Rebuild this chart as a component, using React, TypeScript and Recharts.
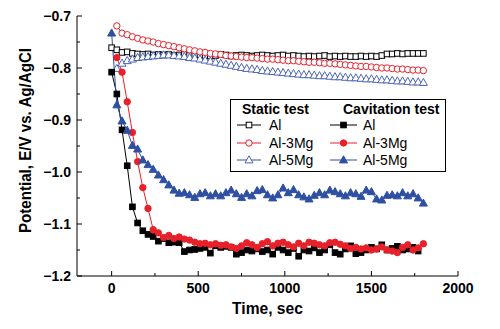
import React from 'react';
import { LineChart, Line, XAxis, YAxis, Legend } from 'recharts';

const TIME = [0, 30, 60, 90, 120, 150, 180, 210, 240, 270, 300, 330, 360, 390, 420, 450, 480, 510, 540, 570, 600, 630, 660, 690, 720, 750, 780, 810, 840, 870, 900, 930, 960, 990, 1020, 1050, 1080, 1110, 1140, 1170, 1200, 1230, 1260, 1290, 1320, 1350, 1380, 1410, 1440, 1470, 1500, 1530, 1560, 1590, 1620, 1650, 1680, 1710, 1740, 1770, 1800];

const STATIC_AL = [-0.761, -0.765, -0.770, -0.769, -0.772, -0.773, -0.774, -0.773, -0.775, -0.774, -0.775, -0.774, -0.776, -0.775, -0.774, -0.776, -0.775, -0.775, -0.776, -0.777, -0.776, -0.774, -0.775, -0.777, -0.776, -0.775, -0.776, -0.777, -0.776, -0.775, -0.776, -0.777, -0.776, -0.775, -0.777, -0.776, -0.777, -0.778, -0.777, -0.778, -0.777, -0.776, -0.778, -0.777, -0.778, -0.777, -0.778, -0.778, -0.777, -0.778, -0.777, -0.778, -0.776, -0.773, -0.773, -0.772, -0.773, -0.772, -0.772, -0.772, -0.772];

const STATIC_AL3MG = [null, -0.719, -0.733, -0.736, -0.740, -0.743, -0.746, -0.748, -0.750, -0.753, -0.755, -0.757, -0.759, -0.761, -0.763, -0.765, -0.767, -0.769, -0.770, -0.772, -0.773, -0.774, -0.776, -0.777, -0.778, -0.779, -0.780, -0.780, -0.781, -0.782, -0.783, -0.783, -0.784, -0.785, -0.786, -0.786, -0.787, -0.788, -0.789, -0.789, -0.790, -0.791, -0.791, -0.792, -0.793, -0.794, -0.795, -0.796, -0.797, -0.797, -0.798, -0.799, -0.800, -0.800, -0.801, -0.802, -0.802, -0.803, -0.804, -0.804, -0.805];

const STATIC_AL5MG = [null, -0.801, -0.791, -0.786, -0.783, -0.780, -0.779, -0.778, -0.777, -0.776, -0.775, -0.775, -0.776, -0.777, -0.778, -0.780, -0.781, -0.783, -0.785, -0.787, -0.789, -0.791, -0.793, -0.795, -0.797, -0.799, -0.801, -0.802, -0.803, -0.805, -0.806, -0.807, -0.808, -0.809, -0.810, -0.811, -0.812, -0.813, -0.813, -0.814, -0.815, -0.815, -0.816, -0.817, -0.817, -0.818, -0.819, -0.819, -0.820, -0.821, -0.821, -0.822, -0.823, -0.823, -0.824, -0.825, -0.825, -0.826, -0.827, -0.827, -0.828];

const CAV_AL = [-0.808, -0.850, -0.919, -0.988, -1.067, -1.098, -1.113, -1.120, -1.124, -1.133, -1.128, -1.136, -1.135, -1.136, -1.153, -1.150, -1.149, -1.147, -1.145, -1.156, -1.142, -1.145, -1.143, -1.145, -1.158, -1.155, -1.150, -1.152, -1.148, -1.153, -1.150, -1.158, -1.145, -1.150, -1.155, -1.147, -1.162, -1.150, -1.152, -1.146, -1.155, -1.150, -1.140, -1.155, -1.158, -1.148, -1.142, -1.157, -1.155, -1.150, -1.145, -1.148, -1.140, -1.150, -1.147, -1.143, -1.150, -1.148, -1.145, -1.152, null];

const CAV_AL3MG = [null, -0.780, -0.808, -0.865, -0.924, -0.980, -1.030, -1.070, -1.111, -1.117, -1.126, -1.122, -1.128, -1.125, -1.129, -1.131, -1.135, -1.138, -1.137, -1.140, -1.138, -1.141, -1.140, -1.144, -1.147, -1.142, -1.136, -1.140, -1.145, -1.138, -1.134, -1.142, -1.137, -1.135, -1.140, -1.144, -1.137, -1.142, -1.135, -1.137, -1.140, -1.142, -1.136, -1.135, -1.139, -1.142, -1.147, -1.145, -1.148, -1.146, -1.150, -1.148, -1.144, -1.150, -1.152, -1.155, -1.145, -1.140, -1.150, -1.146, -1.138];

const CAV_AL5MG = [-0.733, -0.871, -0.902, -0.920, -0.949, -0.956, -0.977, -0.986, -0.995, -1.006, -1.015, -1.025, -1.035, -1.041, -1.040, -1.044, -1.049, -1.042, -1.040, -1.046, -1.042, -1.046, -1.040, -1.035, -1.042, -1.049, -1.042, -1.046, -1.036, -1.034, -1.044, -1.050, -1.044, -1.031, -1.040, -1.034, -1.044, -1.048, -1.052, -1.045, -1.040, -1.044, -1.035, -1.038, -1.042, -1.046, -1.040, -1.042, -1.047, -1.035, -1.038, -1.052, -1.054, -1.045, -1.044, -1.046, -1.040, -1.046, -1.042, -1.050, -1.060];

const X_TICKS = [0, 250, 500, 750, 1000, 1250, 1500, 1750, 2000];
const X_MAJOR = [0, 500, 1000, 1500, 2000];
const Y_TICKS = [-1.2, -1.15, -1.1, -1.05, -1.0, -0.95, -0.9, -0.85, -0.8, -0.75, -0.7];
const Y_MAJOR = [-1.2, -1.1, -1.0, -0.9, -0.8, -0.7];

const BLACK = '#000000';
const RED = '#e8202a';
const BLUE = '#2f4fa3';
const BLUE_LIGHT = '#4a64b8';
const FONT = "Arial, 'Liberation Sans', Helvetica, sans-serif";

const data = TIME.map((t, i) => ({
  t,
  sAl: STATIC_AL[i],
  s3: STATIC_AL3MG[i],
  s5: STATIC_AL5MG[i],
  cAl: CAV_AL[i],
  c3: CAV_AL3MG[i],
  c5: CAV_AL5MG[i],
}));

type Shape = 'square' | 'circle' | 'triangle';

function marker(shape: Shape, cx: number, cy: number, color: string, filled: boolean, key?: string) {
  const fill = filled ? color : '#ffffff';
  if (shape === 'square') {
    const s = 5.6;
    return <rect key={key} x={cx - s / 2} y={cy - s / 2} width={s} height={s} fill={fill} stroke={color} strokeWidth={1} />;
  }
  if (shape === 'circle') {
    return <circle key={key} cx={cx} cy={cy} r={3.2} fill={fill} stroke={color} strokeWidth={1} />;
  }
  const pts = `${cx},${cy - 4.2} ${cx - 4},${cy + 2.9} ${cx + 4},${cy + 2.9}`;
  return <polygon key={key} points={pts} fill={fill} stroke={color} strokeWidth={1} />;
}

function makeDot(shape: Shape, color: string, filled: boolean, id: string) {
  return (p: any) => {
    const key = `${id}-${p.index}`;
    if (p.cx == null || p.cy == null || p.value == null) return <g key={key} />;
    return marker(shape, p.cx, p.cy, color, filled, key);
  };
}

const LeftTick = (p: any) => {
  const { x, y, payload } = p;
  const v = payload.value;
  const major = Y_MAJOR.some((m) => Math.abs(m - v) < 1e-6);
  return (
    <g>
      <line x1={x} x2={x + (major ? 5 : 3)} y1={y} y2={y} stroke={BLACK} strokeWidth={1} />
      {major && (
        <text x={x - 6} y={y + 5} textAnchor="end" fontFamily={FONT} fontWeight="bold" fontSize={14} fill={BLACK}>
          {v.toFixed(1).replace('-', '\u2212')}
        </text>
      )}
    </g>
  );
};

const RightTick = (p: any) => {
  const { x, y, payload } = p;
  const v = payload.value;
  const major = Y_MAJOR.some((m) => Math.abs(m - v) < 1e-6);
  return <line x1={x} x2={x - (major ? 5 : 3)} y1={y} y2={y} stroke={BLACK} strokeWidth={1} />;
};

const BottomTick = (p: any) => {
  const { x, y, payload } = p;
  const v = payload.value;
  const major = X_MAJOR.includes(v);
  return (
    <g>
      <line x1={x} x2={x} y1={y} y2={y - (major ? 5 : 3)} stroke={BLACK} strokeWidth={1} />
      {major && (
        <text x={x} y={y + 17} textAnchor="middle" fontFamily={FONT} fontWeight="bold" fontSize={14} fill={BLACK}>
          {String(v)}
        </text>
      )}
    </g>
  );
};

const TopTick = (p: any) => {
  const { x, y, payload } = p;
  const v = payload.value;
  const major = X_MAJOR.includes(v);
  return <line x1={x} x2={x} y1={y} y2={y + (major ? 5 : 3)} stroke={BLACK} strokeWidth={1} />;
};

const LEGEND_ROWS: { name: string; shape: Shape; color: string }[] = [
  { name: 'Al', shape: 'square', color: BLACK },
  { name: 'Al-3Mg', shape: 'circle', color: RED },
  { name: 'Al-5Mg', shape: 'triangle', color: BLUE },
];

const LegendBox = () => {
  const rowsY = [26, 44, 61];
  return (
    <svg width={216} height={73} style={{ display: 'block' }}>
      <rect x={0.5} y={0.5} width={215} height={72} fill="#ffffff" stroke={BLACK} strokeWidth={1} />
      <text x={12} y={15} fontFamily={FONT} fontWeight="bold" fontSize={14} fill={BLACK}>Static test</text>
      <text x={113} y={15} fontFamily={FONT} fontWeight="bold" fontSize={14} fill={BLACK}>Cavitation test</text>
      {LEGEND_ROWS.map((r, i) => {
        const y = rowsY[i];
        return (
          <g key={r.name}>
            <line x1={7} x2={31} y1={y} y2={y} stroke={r.color} strokeWidth={1} />
            {marker(r.shape, 19, y, r.shape === 'triangle' ? BLUE_LIGHT : r.color, false)}
            <text x={39} y={y + 5} fontFamily={FONT} fontSize={14} fill={BLACK}>{r.name}</text>
            <line x1={100} x2={127} y1={y} y2={y} stroke={r.color} strokeWidth={1} />
            {marker(r.shape, 113.5, y, r.color, true)}
            <text x={133} y={y + 5} fontFamily={FONT} fontSize={14} fill={BLACK}>{r.name}</text>
          </g>
        );
      })}
    </svg>
  );
};

const YLabel = (p: any) => {
  const vb = p.viewBox || { x: 0, y: 16, width: 77, height: 260 };
  const cx = vb.x + 31;
  const cy = vb.y + vb.height / 2 - 5.5;
  return (
    <text x={cx} y={cy} transform={`rotate(-90 ${cx} ${cy})`} textAnchor="middle" textLength={185} lengthAdjust="spacingAndGlyphs" fontFamily={FONT} fontWeight="bold" fontSize={16} fill={BLACK}>
      Potential, E/V vs. Ag/AgCl
    </text>
  );
};

const XLabel = (p: any) => {
  const vb = p.viewBox || { x: 77, y: 276, width: 381, height: 53 };
  const cx = vb.x + vb.width / 2;
  return (
    <text x={cx} y={vb.y + 38} textAnchor="middle" fontFamily={FONT} fontWeight="bold" fontSize={15.6} fill={BLACK}>
      Time, sec
    </text>
  );
};

export default function App() {
  return (
    <div style={{ position: 'absolute', left: 0, top: 0, width: 500, height: 329, background: '#ffffff' }}>
      <LineChart width={500} height={329} data={data} margin={{ top: 16, right: 42, left: 0, bottom: 0 }}>
        <XAxis
          xAxisId="b"
          dataKey="t"
          type="number"
          domain={[-200, 2000]}
          ticks={X_TICKS}
          interval={0}
          tickLine={false}
          tickSize={0}
          tickMargin={0}
          tick={<BottomTick />}
          axisLine={{ stroke: BLACK, strokeWidth: 1 }}
          height={53}
          allowDataOverflow
          label={<XLabel />}
        />
        <XAxis
          xAxisId="top"
          orientation="top"
          dataKey="t"
          type="number"
          domain={[-200, 2000]}
          ticks={X_TICKS}
          interval={0}
          tickLine={false}
          tickSize={0}
          tickMargin={0}
          tick={<TopTick />}
          axisLine={{ stroke: BLACK, strokeWidth: 1 }}
          height={0}
          allowDataOverflow
        />
        <YAxis
          yAxisId="l"
          type="number"
          domain={[-1.2, -0.7]}
          ticks={Y_TICKS}
          interval={0}
          tickLine={false}
          tickSize={0}
          tickMargin={0}
          tick={<LeftTick />}
          axisLine={{ stroke: BLACK, strokeWidth: 1 }}
          width={77}
          allowDataOverflow
          label={<YLabel />}
        />
        <YAxis
          yAxisId="r"
          orientation="right"
          type="number"
          domain={[-1.2, -0.7]}
          ticks={Y_TICKS}
          interval={0}
          tickLine={false}
          tickSize={0}
          tickMargin={0}
          tick={<RightTick />}
          axisLine={{ stroke: BLACK, strokeWidth: 1 }}
          width={0}
          allowDataOverflow
        />
        <Line xAxisId="b" yAxisId="l" dataKey="sAl" stroke={BLACK} strokeWidth={1} dot={makeDot('square', BLACK, false, 'sAl')} activeDot={false} isAnimationActive={false} connectNulls={false} />
        <Line xAxisId="b" yAxisId="l" dataKey="s3" stroke={RED} strokeWidth={1} dot={makeDot('circle', RED, false, 's3')} activeDot={false} isAnimationActive={false} connectNulls={false} />
        <Line xAxisId="b" yAxisId="l" dataKey="s5" stroke={BLUE_LIGHT} strokeWidth={1} dot={makeDot('triangle', BLUE_LIGHT, false, 's5')} activeDot={false} isAnimationActive={false} connectNulls={false} />
        <Line xAxisId="b" yAxisId="l" dataKey="cAl" stroke={BLACK} strokeWidth={1} dot={makeDot('square', BLACK, true, 'cAl')} activeDot={false} isAnimationActive={false} connectNulls={false} />
        <Line xAxisId="b" yAxisId="l" dataKey="c3" stroke={RED} strokeWidth={1} dot={makeDot('circle', RED, true, 'c3')} activeDot={false} isAnimationActive={false} connectNulls={false} />
        <Line xAxisId="b" yAxisId="l" dataKey="c5" stroke={BLUE} strokeWidth={1} dot={makeDot('triangle', BLUE, true, 'c5')} activeDot={false} isAnimationActive={false} connectNulls={false} />
        <Legend
          layout="horizontal"
          verticalAlign="middle"
          align="center"
          content={<LegendBox />}
          wrapperStyle={{ left: 230, top: 99, width: 216, height: 73, margin: 0, padding: 0 }}
        />
      </LineChart>
    </div>
  );
}
